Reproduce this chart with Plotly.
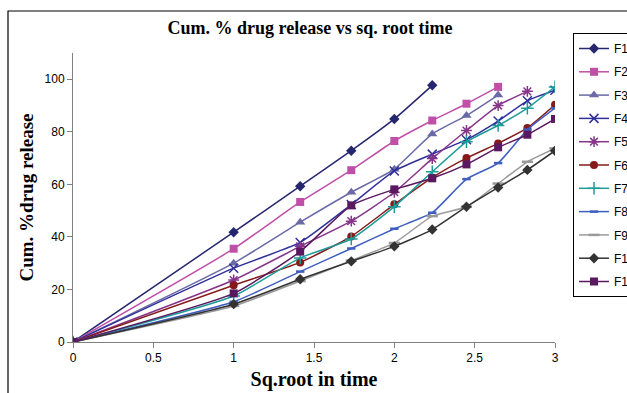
import plotly.graph_objects as go

sqrt_time = [0, 1, 1.414, 1.732, 2, 2.236, 2.449, 2.646, 2.828, 3]

F1 = [0, 41.8, 59.3, 72.8, 84.9, 97.7]
F2 = [0, 35.5, 53.3, 65.4, 76.5, 84.3, 90.7, 97.1]
F3 = [0, 30.0, 45.6, 57.0, 65.8, 79.2, 86.2, 94.0]
F4 = [0, 28.1, 37.9, 52.3, 65.1, 71.5, 77.0, 84.1, 91.8, 95.8]
F5 = [0, 23.6, 36.4, 46.0, 57.0, 69.8, 80.5, 90.0, 95.4]
F6 = [0, 21.6, 30.3, 40.2, 52.4, 62.6, 70.0, 75.6, 81.5, 90.3]
F7 = [0, 17.5, 32.0, 39.2, 51.5, 64.8, 76.2, 82.4, 89.0, 97.1]
F8 = [0, 15.3, 26.8, 35.6, 43.1, 49.2, 62.0, 68.1, 80.8, 89.0]
F9 = [0, 13.7, 23.2, 31.0, 37.7, 47.9, 51.5, 60.3, 68.6, 73.7]
F10 = [0, 14.4, 23.9, 30.7, 36.4, 42.8, 51.5, 58.8, 65.5, 72.8]
F11 = [0, 18.5, 34.4, 52.0, 58.1, 62.3, 67.6, 74.1, 78.9, 84.9]

names = ["F1", "F2", "F3", "F4", "F5", "F6", "F7", "F8", "F9", "F10", "F11"]
series = [F1, F2, F3, F4, F5, F6, F7, F8, F9, F10, F11]
colors = ["#26266E", "#C04FA8", "#6A6AA6", "#30309A", "#87358A", "#861A1A",
          "#1E9C9A", "#3E5EC0", "#9A9A9A", "#333333", "#5A1860"]
symbols = ["diamond", "square", "triangle-up", "x-thin", "asterisk", "circle",
           "cross-thin", "line-ew", "line-ew", "diamond", "square"]
sizes = [8, 8, 9, 9, 9, 8, 9, 6, 8, 8, 8]

fig = go.Figure()
for i, (nm, ys) in enumerate(zip(names, series)):
    sym = symbols[i]
    thin = sym in ("x-thin", "asterisk", "cross-thin", "line-ew")
    fig.add_trace(go.Scatter(
        x=sqrt_time[:len(ys)], y=ys, name=nm, mode="lines+markers",
        legendgroup=nm,
        line=dict(color=colors[i], width=1.5, shape="spline", smoothing=0.5),
        marker=dict(symbol=sym, size=sizes[i], color=colors[i],
                    line=dict(color=colors[i], width=(2.5 if sym == "line-ew" else 1.5) if thin else 0)),
    ))

L, R, T, B = 73, 72, 53, 51
W, H = 627, 393
pw, ph = W - L - R, H - T - B

def px_x(p):
    return (p - L) / pw

def px_y(p):
    return (H - B - p) / ph

fig.add_shape(type="rect", xref="paper", yref="paper",
              x0=px_x(8), x1=px_x(700), y0=px_y(460), y1=px_y(11),
              line=dict(color="black", width=1.2), layer="below")

fig.update_layout(
    width=W, height=H,
    margin=dict(l=L, r=R, t=T, b=B, autoexpand=False),
    paper_bgcolor="white", plot_bgcolor="white",
    title=dict(text="<b>Cum. % drug release vs sq. root time</b>",
               font=dict(family="Liberation Serif", size=18, color="black"),
               x=px_x(310), xanchor="center", xref="paper",
               y=1 - 28 / H, yanchor="middle"),
    xaxis=dict(range=[0, 3], dtick=0.5, showgrid=False, zeroline=False,
               showline=True, linecolor="#808080", linewidth=1,
               ticks="outside", ticklen=5, tickcolor="#808080",
               tickfont=dict(family="Liberation Sans", size=12, color="black"),
               title=dict(text="<b>Sq.root in time</b>",
                          font=dict(family="Liberation Serif", size=20, color="black"),
                          standoff=7)),
    yaxis=dict(range=[0, 110], tickvals=[0, 20, 40, 60, 80, 100], showgrid=False,
               zeroline=False, showline=True, linecolor="#808080", linewidth=1,
               ticks="outside", ticklen=5, tickcolor="#808080",
               tickfont=dict(family="Liberation Sans", size=12, color="black"),
               title=dict(text="<b>Cum. %drug release</b>",
                          font=dict(family="Liberation Serif", size=19, color="black"),
                          standoff=5)),
    legend=dict(x=px_x(573), xanchor="left", y=px_y(33), yanchor="top",
                bordercolor="black", borderwidth=1, bgcolor="white",
                font=dict(family="Liberation Sans", size=12, color="black"),
                itemwidth=30, tracegroupgap=4.3, traceorder="grouped",
                maxheight=380),
    showlegend=True,
)

fig.write_html("out.html", config={"displayModeBar": False})
